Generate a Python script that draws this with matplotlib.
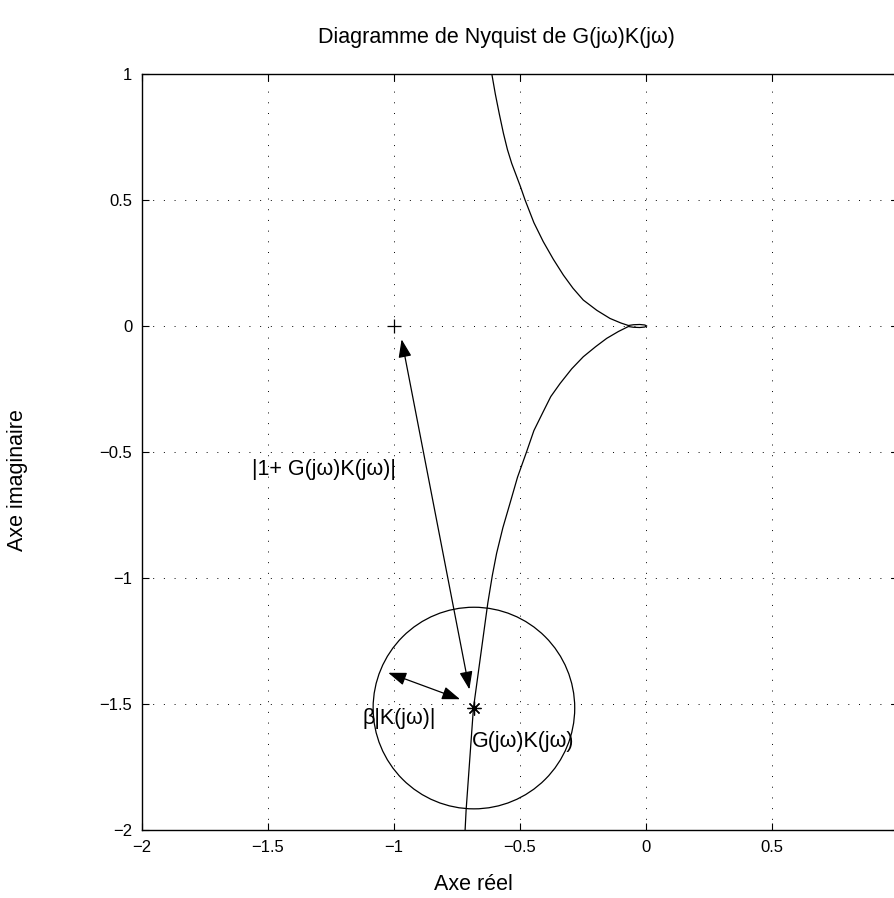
import numpy as np
import matplotlib.pyplot as plt
from matplotlib.patches import Circle

plt.rcParams['font.family'] = ['Liberation Sans', 'DejaVu Sans']

# Nyquist curve (upper branch, small loop, lower branch)
re_part = [-0.612, -0.598, -0.582, -0.566, -0.550, -0.533, -0.516, -0.498, -0.480, -0.445, -0.408,
           -0.368, -0.328, -0.290, -0.249, -0.195, -0.143, -0.100, -0.070,
           -0.050, -0.025, -0.005, 0.003, -0.005, -0.025, -0.050, -0.070,
           -0.110, -0.156, -0.200, -0.249, -0.295, -0.341, -0.378, -0.408, -0.445,
           -0.474, -0.510, -0.540, -0.568, -0.593, -0.610, -0.628,
           -0.685, -0.714, -0.718]
im_part = [1.000, 0.920, 0.840, 0.765, 0.700, 0.645, 0.600, 0.552, 0.500, 0.410, 0.335,
           0.265, 0.202, 0.150, 0.103, 0.062, 0.030, 0.012, 0.002,
           0.005, 0.006, 0.004, 0.000, -0.004, -0.006, -0.005, -0.002,
           -0.022, -0.049, -0.082, -0.122, -0.170, -0.228, -0.280, -0.340, -0.415,
           -0.499, -0.600, -0.704, -0.800, -0.902, -0.990, -1.100,
           -1.517, -1.921, -2.000]

critical = (-1.0, 0.0)
gk_point = (-0.683, -1.516)
radius = 0.40

arrow1 = [(-0.970, -0.053), (-0.701, -1.442)]
arrow2 = [(-1.023, -1.376), (-0.738, -1.481)]

ticks = [-2, -1.5, -1, -0.5, 0, 0.5, 1]
tick_labels = ['\u22122', '\u22121.5', '\u22121', '\u22120.5', '0', '0.5', '1']

fig = plt.figure(figsize=(8.95, 8.98), dpi=100)
ax = fig.add_axes([0.1587, 0.0757, 0.8447, 0.8419])

ax.plot(re_part, im_part, color='black', lw=0.9)
ax.add_patch(Circle(gk_point, radius, fill=False, color='black', lw=0.9))
ax.plot(*critical, marker='+', color='black', ms=10, mew=0.9)
ax.plot(*gk_point, marker=(8, 2, 0), color='black', ms=10, mew=0.9)

for a in (arrow1, arrow2):
    ax.annotate('', xy=a[0], xytext=a[1],
                arrowprops=dict(arrowstyle='<|-|>,head_length=0.55,head_width=0.2',
                                mutation_scale=20, color='black', lw=0.9,
                                shrinkA=0, shrinkB=0))

ax.text(-1.563, -0.571, '|1+ G(jω)K(jω)|', fontsize=15.5, ha='left', va='center')
ax.text(-1.127, -1.556, 'β|K(jω)|', fontsize=15.5, ha='left', va='center')
ax.text(-0.692, -1.650, 'G(jω)K(jω)', fontsize=15.5, ha='left', va='center')

ax.set_xlim(-2, 1)
ax.set_ylim(-2, 1)
ax.set_xticks(ticks)
ax.set_xticklabels(tick_labels)
ax.set_yticks(ticks)
ax.set_yticklabels(tick_labels)
ax.tick_params(direction='in', top=True, right=True, length=5, labelsize=12, pad=7)
ax.grid(True, color='black', linestyle=(0, (1, 10)), lw=0.7)
for s in ax.spines.values():
    s.set_linewidth(1.0)

fig.text(496 / 895, 1 - 38 / 898, 'Diagramme de Nyquist de G(jω)K(jω)',
         fontsize=15.5, ha='center', va='center')
fig.text(473 / 895, 1 - 885 / 898, 'Axe réel', fontsize=15.5, ha='center', va='center')
fig.text(18 / 895, 1 - 480 / 898, 'Axe imaginaire', fontsize=15.5, ha='center',
         va='center', rotation=90)

fig.savefig('out.png')
